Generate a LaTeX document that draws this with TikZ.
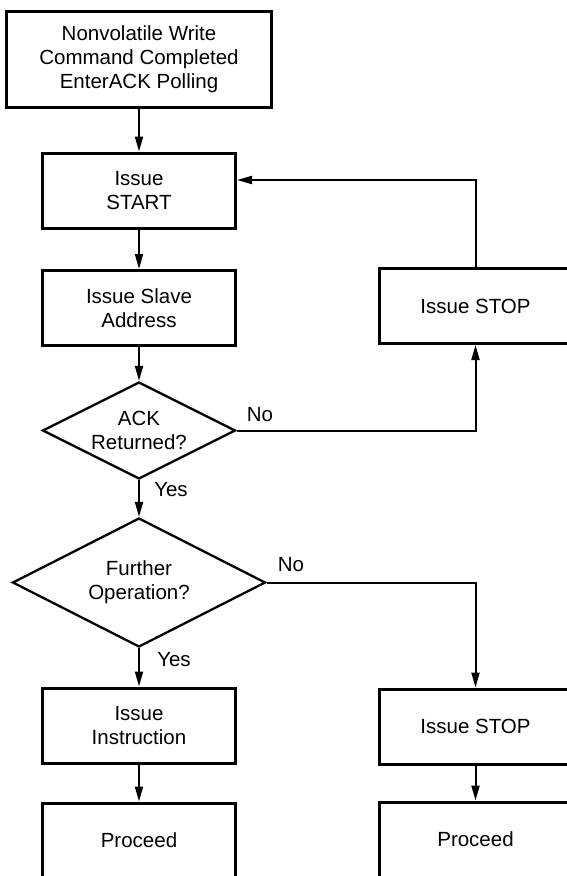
\documentclass[tikz,border=0pt]{standalone}
\usepackage{fontspec}
\setmainfont{Liberation Sans}
\usetikzlibrary{arrows.meta}
\usetikzlibrary{shapes.geometric}

\begin{document}
\begin{tikzpicture}[x=1pt,y=-1pt,line width=2pt,font=\fontsize{20.5}{24}\selectfont,
>={Triangle[length=15pt,width=8pt]},
box/.style={draw,line width=3pt,minimum width=193pt,minimum height=75pt,align=center,inner sep=0pt},
test/.style={draw,diamond,aspect=2,line width=2.3pt,align=center,inner sep=0pt}]
\useasboundingbox (0,0) rectangle (567,876);
\clip (0,0) rectangle (567,876);

\node[box,minimum width=265pt,minimum height=96pt] (cmd) at (139,59) {Nonvolatile Write\\Command Completed\\EnterACK Polling};
\node[box] (start) at (139,190.5) {Issue\\START};
\node[box] (addr) at (139,308) {Issue Slave\\Address};
\node[test,minimum width=193pt,minimum height=97pt] (ack) at (139,430.5) {ACK\\Returned?};
\node[test,minimum width=253pt,minimum height=129pt] (further) at (139,582.5) {Further\\Operation?};
\node[box] (instr) at (139,725.5) {Issue\\Instruction};
\node[box] (proca) at (139,840.5) {Proceed};
\node[box] (stopa) at (475.5,306) {Issue STOP};
\node[box] (stopb) at (475.5,726.5) {Issue STOP};
\node[box] (procb) at (475.5,839.5) {Proceed};
\node (noa) at (260,415) {No};
\node (yesa) at (171,490) {Yes};
\node (nob) at (291,565) {No};
\node (yesb) at (174,660) {Yes};

\path
(cmd) edge[->] (start)
(start) edge[->] (addr)
(addr) edge[->] (ack)
(ack) edge[->] (further)
(further) edge[->] (instr)
(instr) edge[->] (proca)
(stopb) edge[->] (procb)
(ack) edge[->,to path={-| (\tikztotarget)}] (stopa)
(further) edge[->,to path={-| (\tikztotarget)}] (stopb)
(stopa) edge[->,to path={|- (\tikztotarget)}] ([yshift=10.5pt]start.east);
\end{tikzpicture}
\end{document}
